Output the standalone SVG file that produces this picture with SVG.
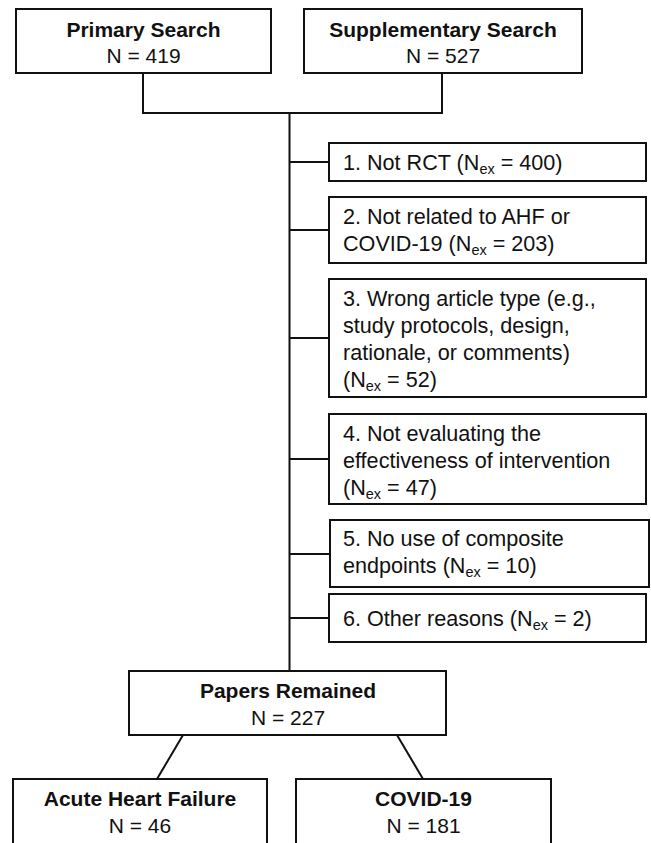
<svg xmlns="http://www.w3.org/2000/svg" width="651" height="843" viewBox="0 0 651 843">
<style>
rect{fill:#fff;stroke:#111;stroke-width:2}
.c line,.c polyline{stroke:#111;stroke-width:2;fill:none}
text{font-family:"Liberation Sans",Arial,sans-serif;font-size:21px;fill:#111}
.e{font-size:21.6px}
.b{font-weight:bold}
.m{text-anchor:middle}
.s{font-size:14.5px}
</style>
<rect x="0" y="0" width="651" height="843" style="stroke:none"/>
<g class="c" id="connectors">
<polyline points="143,73 143,113 442,113 442,73"/>
<line x1="289.5" y1="113" x2="289.5" y2="671"/>
<line x1="289.5" y1="162" x2="329" y2="162"/>
<line x1="289.5" y1="230" x2="329" y2="230"/>
<line x1="289.5" y1="338" x2="329" y2="338"/>
<line x1="289.5" y1="459" x2="329" y2="459"/>
<line x1="289.5" y1="554" x2="330" y2="554"/>
<line x1="289.5" y1="618" x2="329" y2="618"/>
<line x1="183" y1="735" x2="157" y2="779"/>
<line x1="397" y1="735" x2="423" y2="779"/>
</g>
<g id="primary">
<rect x="16" y="9" width="255" height="64"/>
<text class="b m" x="143.5" y="36.5">Primary Search</text>
<text class="m" x="143.5" y="62.5">N = 419</text>
</g>
<g id="supplementary">
<rect x="304" y="9" width="278" height="64"/>
<text class="b m" x="443" y="36.5">Supplementary Search</text>
<text class="m" x="443" y="62.5">N = 527</text>
</g>
<g id="ex1">
<rect x="329" y="143" width="317" height="38"/>
<text class="e" x="343" y="169.5">1. Not RCT (N<tspan class="s" dy="4">ex</tspan><tspan dy="-4"> = 400)</tspan></text>
</g>
<g id="ex2">
<rect x="329" y="197" width="317" height="66"/>
<text class="e" x="343" y="224">2. Not related to AHF or</text>
<text class="e" x="343" y="251">COVID-19 (N<tspan class="s" dy="4">ex</tspan><tspan dy="-4"> = 203)</tspan></text>
</g>
<g id="ex3">
<rect x="329" y="279" width="317" height="118"/>
<text class="e" x="343" y="306">3. Wrong article type (e.g.,</text>
<text class="e" x="343" y="333">study protocols, design,</text>
<text class="e" x="343" y="360">rationale, or comments)</text>
<text class="e" x="343" y="387">(N<tspan class="s" dy="4">ex</tspan><tspan dy="-4"> = 52)</tspan></text>
</g>
<g id="ex4">
<rect x="329" y="414" width="317" height="90"/>
<text class="e" x="343" y="440.5">4. Not evaluating the</text>
<text class="e" x="343" y="467.5">effectiveness of intervention</text>
<text class="e" x="343" y="494.5">(N<tspan class="s" dy="4">ex</tspan><tspan dy="-4"> = 47)</tspan></text>
</g>
<g id="ex5">
<rect x="330" y="520" width="319" height="67"/>
<text class="e" x="343" y="546">5. No use of composite</text>
<text class="e" x="343" y="573">endpoints (N<tspan class="s" dy="4">ex</tspan><tspan dy="-4"> = 10)</tspan></text>
</g>
<g id="ex6">
<rect x="329" y="594" width="317" height="48"/>
<text class="e" x="343" y="625.5">6. Other reasons (N<tspan class="s" dy="4">ex</tspan><tspan dy="-4"> = 2)</tspan></text>
</g>
<g id="remained">
<rect x="129" y="671" width="317" height="64"/>
<text class="b m" x="288" y="697.5">Papers Remained</text>
<text class="m" x="288" y="724.5">N = 227</text>
</g>
<g id="ahf">
<rect x="13" y="779" width="254" height="70"/>
<text class="b m" x="140" y="806">Acute Heart Failure</text>
<text class="m" x="140" y="833">N = 46</text>
</g>
<g id="covid">
<rect x="296" y="779" width="255" height="70"/>
<text class="b m" x="423.5" y="806">COVID-19</text>
<text class="m" x="423.5" y="833">N = 181</text>
</g>
</svg>
